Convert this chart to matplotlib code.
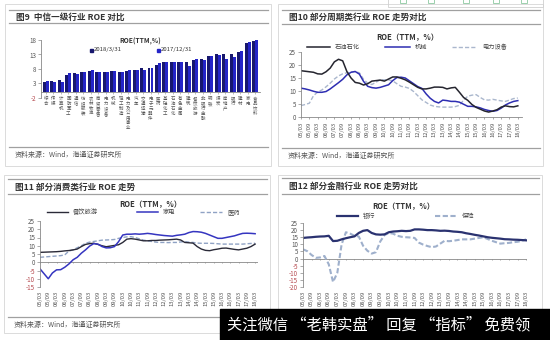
import numpy as np
import matplotlib
matplotlib.use('Agg')
import matplotlib.pyplot as plt
from matplotlib.patches import Rectangle

plt.rcParams['font.family'] = ['Noto Sans CJK SC', 'DejaVu Sans']
plt.rcParams['axes.unicode_minus'] = False

# 图9: 中信一级行业 ROE (TTM, %)
industries = ['综合', '传媒', '计算机', '国防军工', '通信', '纺织服装', '农林牧渔', '商贸零售',
              '电力设备', '机械', '轻工制造', '电力及公用事业', '汽车', '交通运输', '电子元器件',
              '医药', '基础化工', '石油石化', '有色金属', '建筑', '餐饮旅游', '非银行金融', '钢铁',
              '煤炭', '房地产', '银行', '建材', '家电', '食品饮料']
roe_2018q1 = [3.5, 4.0, 4.2, 6.0, 6.5, 6.8, 7.2, 7.0, 7.0, 7.2, 7.0, 7.3, 7.5, 8.3, 8.5,
              9.5, 10.5, 10.5, 10.5, 10.5, 11.0, 11.3, 12.5, 13.0, 13.0, 13.3, 14.0, 17.0, 17.8]
roe_2017q4 = [3.8, 3.5, 3.6, 6.6, 6.3, 7.0, 7.5, 7.0, 7.0, 7.3, 7.0, 7.5, 7.5, 7.8, 8.5,
              10.0, 10.5, 10.5, 10.5, 9.0, 11.3, 11.0, 12.5, 12.8, 11.5, 12.0, 14.2, 17.3, 17.9]

date_labels = ['05/03', '05/09', '06/03', '06/09', '07/03', '07/09', '08/03', '08/09', '09/03',
               '09/09', '10/03', '10/09', '11/03', '11/09', '12/03', '12/09', '13/03', '13/09',
               '14/03', '14/09', '15/03', '15/09', '16/03', '16/09', '17/03', '17/09', '18/03']

# 图10: 周期类, quarterly 2005Q1-2018Q1
petro = [17.8, 17.6, 17.4, 17.2, 16.6, 16.5, 17.4, 18.8, 21.2, 22.2, 21.6, 17.5, 15.0, 13.3,
         13.0, 12.3, 12.8, 13.8, 14.0, 14.2, 13.8, 14.6, 15.4, 15.4, 14.9, 14.3, 13.4, 12.4,
         11.4, 10.8, 10.8, 11.1, 11.5, 11.5, 11.4, 10.8, 11.2, 11.4, 9.5, 7.5, 6.4, 4.8, 3.7,
         3.0, 2.3, 1.9, 2.3, 2.8, 3.8, 4.3, 4.0, 3.9, 4.3]
machinery = [11.1, 10.8, 10.4, 9.9, 9.5, 9.5, 9.8, 10.8, 12.0, 13.2, 14.5, 16.2, 17.2, 17.5,
             16.5, 13.7, 11.8, 11.3, 11.1, 11.4, 11.9, 12.4, 14.0, 15.2, 15.3, 15.0, 13.9, 12.8,
             11.7, 11.0, 8.9, 7.2, 6.0, 5.4, 6.5, 6.3, 6.0, 6.0, 5.7, 4.9, 4.1, 4.1, 3.9, 3.5,
             2.9, 2.5, 2.2, 2.5, 3.4, 4.6, 5.4, 6.0, 6.3]
power_equip = [4.4, 4.8, 5.3, 8.2, 9.6, 10.4, 11.6, 13.0, 14.6, 15.8, 16.6, 17.0, 17.3, 17.5,
               17.0, 14.5, 13.0, 12.5, 13.4, 14.3, 14.3, 14.3, 13.9, 12.8, 11.8, 11.5, 11.0, 9.8,
               8.2, 6.6, 5.6, 4.6, 4.1, 3.9, 3.8, 3.8, 3.8, 4.0, 4.5, 6.5, 8.0, 8.4, 8.6, 7.5,
               6.6, 6.5, 6.8, 6.5, 6.2, 6.0, 6.5, 7.1, 7.3]

# 图11: 消费类
catering = [6.0, 6.1, 6.2, 6.3, 6.4, 6.6, 6.9, 7.1, 7.5, 8.0, 9.5, 10.8, 11.3, 11.5, 10.8,
            10.0, 9.4, 9.8, 10.2, 10.6, 12.0, 14.0, 14.3, 14.0, 13.5, 13.0, 13.0, 13.2, 13.2,
            13.4, 13.5, 13.6, 13.8, 14.0, 13.5, 12.0, 11.8, 11.6, 9.5, 8.0, 7.2, 7.0, 7.6, 8.0,
            8.5, 8.6, 8.2, 7.8, 7.5, 8.0, 8.5, 9.5, 11.0]
appliances = [-4.0, -7.0, -10.0, -6.5, -4.6, -4.5, -3.0, -1.0, 1.5, 3.0, 5.5, 7.5, 9.8, 11.3,
              11.0, 9.5, 8.7, 8.8, 9.5, 12.5, 16.5, 17.0, 17.0, 17.2, 17.0, 17.2, 17.5, 17.2,
              16.8, 16.5, 16.2, 16.0, 15.8, 16.3, 16.6, 17.0, 18.0, 18.6, 18.5, 18.2, 17.5, 16.5,
              15.5, 14.5, 14.5, 15.0, 15.5, 16.0, 16.8, 17.5, 17.6, 17.5, 17.3]
pharma = [3.0, 3.2, 3.4, 3.6, 3.8, 4.0, 4.5, 6.8, 7.5, 8.8, 10.0, 11.5, 12.2, 12.6, 13.0, 13.4,
          13.5, 13.6, 13.8, 14.5, 15.0, 15.4, 15.5, 15.0, 14.2, 13.4, 13.0, 12.6, 12.2, 12.0,
          12.0, 11.9, 12.0, 12.0, 12.3, 12.5, 12.2, 12.0, 11.6, 11.5, 11.5, 11.5, 11.4, 11.2,
          11.0, 11.0, 11.0, 11.0, 11.0, 11.0, 11.2, 11.4, 11.5]

# 图12: 金融
banks = [14.5, 14.8, 15.0, 15.3, 15.5, 15.6, 16.0, 12.3, 12.5, 13.5, 14.3, 15.0, 15.6, 18.0,
         19.5, 20.0, 18.0, 17.0, 16.8, 17.0, 18.5, 19.0, 19.2, 19.5, 19.3, 19.5, 20.5, 20.5,
         20.3, 20.0, 20.0, 19.8, 19.5, 19.6, 19.4, 19.0, 18.8, 18.5, 17.8, 17.3, 16.7, 16.2,
         15.6, 15.0, 14.6, 14.3, 14.0, 13.6, 13.5, 13.3, 13.2, 13.0, 12.8]
insurance = [6.5, 5.2, 2.5, 0.5, 0.8, 1.8, -4.0, -16.5, -10.0, 10.0, 18.5, 17.5, 16.0, 15.5,
             9.0, 5.5, 3.5, 4.5, 12.0, 16.5, 18.0, 17.5, 16.0, 15.3, 15.0, 14.8, 14.5, 11.2, 9.8,
             8.8, 8.0, 8.5, 10.5, 12.5, 12.2, 12.5, 13.0, 13.5, 13.5, 13.5, 14.0, 14.5, 15.0,
             13.8, 12.5, 11.5, 10.5, 10.8, 11.0, 11.5, 11.8, 12.5, 13.5]

source = '资料来源：Wind，海通证券研究所'
W, H = 550, 340

fig = plt.figure(figsize=(5.5, 3.4), dpi=100)
fig.patch.set_facecolor('white')

bg = fig.add_axes([0, 0, 1, 1])
bg.set_xlim(0, W)
bg.set_ylim(H, 0)
bg.axis('off')
bg.set_zorder(-1)


def box(x0, y0, x1, y1):
    return [x0 / W, 1 - y1 / H, (x1 - x0) / W, (y1 - y0) / H]


def frame(x0, y0, x1, y1, top, under, src, title, show_source=True):
    bg.add_patch(Rectangle((x0, y0), x1 - x0, y1 - y0, fill=False, ec='#d6d6d6', lw=0.6))
    for yy in (top, under, src):
        bg.plot([x0 + 4, x1 - 3], [yy, yy], color='#a0a0a0', lw=0.9)
    bg.text(x0 + 11, (top + under) / 2 + 0.5, title, fontsize=6.2, fontweight='bold',
            color='#333333', va='center')
    if show_source:
        bg.text(x0 + 10, src + 8, source, fontsize=5, color='#555555', va='center')


frame(5, 4, 271, 166, 10, 23, 147, '图9  中信一级行业 ROE 对比')
frame(278, 4, 543, 166, 10, 24, 148, '图10 部分周期类行业 ROE 走势对比')
frame(4, 175, 270, 333, 179, 194, 317, '图11 部分消费类行业 ROE 走势')
# the source line of 图12 sits under the banner
frame(278, 175, 542, 333, 178, 194, 317, '图12 部分金融行业 ROE 走势对比', show_source=False)


def style_axes(ax, ylim, yticks):
    ax.set_facecolor('none')
    ax.set_ylim(*ylim)
    ax.set_yticks(yticks)
    ax.spines[['top', 'right']].set_visible(False)
    ax.spines['left'].set_color('#888888')
    ax.spines['left'].set_linewidth(0.6)
    ax.tick_params(axis='y', length=2, width=0.5, color='#888888', labelsize=4.5,
                   labelcolor='#555555', pad=1.5)
    for lbl, v in zip(ax.get_yticklabels(), yticks):
        if v < 0:
            lbl.set_color('#b5484d')


# --- 图9 bars ---
ax1 = fig.add_axes(box(41, 40, 260, 98))
style_axes(ax1, (-2, 18), [-2, 3, 8, 13, 18])
xi = np.arange(len(industries))
ax1.bar(xi - 0.2, roe_2018q1, 0.4, color='#17176e')
ax1.bar(xi + 0.2, roe_2017q4, 0.4, color='#2424c8')
ax1.set_xlim(-0.67, 28.67)
ax1.spines['bottom'].set_position(('data', 0))
ax1.spines['bottom'].set_color('#888888')
ax1.spines['bottom'].set_linewidth(0.6)
ax1.set_xticks(xi)
ax1.set_xticklabels(['\n'.join(n) for n in industries], fontsize=3.2, linespacing=0.95,
                    color='#555555', va='top')
ax1.tick_params(axis='x', length=1.5, width=0.4, color='#888888', pad=1.5)
bg.text(140, 41, 'ROE(TTM,%)', fontsize=4.8, fontweight='bold', ha='center', va='center',
        color='#333333')
bg.add_patch(Rectangle((90, 48.5), 3, 3, color='#17176e'))
bg.text(94, 50, '2018/3/31', fontsize=4.3, va='center', color='#333333')
bg.add_patch(Rectangle((157, 48.5), 3, 3, color='#2424c8'))
bg.text(161, 50, '2017/12/31', fontsize=4.3, va='center', color='#333333')

quarters = np.arange(len(petro))


def line_panel(rect, ylim, yticks, xmax, series):
    ax = fig.add_axes(box(*rect))
    style_axes(ax, ylim, yticks)
    for vals, kw in series:
        ax.plot(quarters, vals, **kw)
    ax.set_xlim(0, xmax)
    ax.set_xticks(quarters[::2])
    ax.set_xticklabels(date_labels, rotation=90, fontsize=4.2, color='#555555')
    ax.tick_params(axis='x', length=0, pad=3)
    if ylim[0] < 0:
        ax.spines['bottom'].set_visible(False)
        ax.axhline(0, color='#888888', lw=0.6, zorder=0)
        ax.vlines(quarters[::2], -0.015 * (ylim[1] - ylim[0]), 0, color='#888888', lw=0.5)
    else:
        ax.spines['bottom'].set_color('#888888')
        ax.spines['bottom'].set_linewidth(0.6)
        ax.tick_params(axis='x', length=1.5, width=0.5, color='#888888', pad=2)
    return ax


def legend_entry(x0, x1, y, text, kw):
    bg.plot([x0, x1], [y, y], **kw)
    bg.text(x1 + 5, y, text, fontsize=4.5, va='center', color='#444444')


# --- 图10 ---
k_petro = dict(color='#25252f', lw=1.1)
k_mach = dict(color='#2e2eb2', lw=1.1)
k_power = dict(color='#aab7cd', lw=1.0, ls=(0, (3, 1.5)))
line_panel((301, 52, 522, 117), (0, 25), [0, 5, 10, 15, 20, 25], 53,
           [(power_equip, k_power), (machinery, k_mach), (petro, k_petro)])
bg.text(407, 38, 'ROE（TTM，%）', fontsize=5.5, fontweight='bold', ha='center', va='center',
        color='#333333')
legend_entry(307, 330, 47, '石油石化', k_petro)
legend_entry(385, 410, 47, '机械', k_mach)
legend_entry(452, 477, 47, '电力设备', k_power)

# --- 图11 ---
k_cat = dict(color='#2a2a38', lw=1.0)
k_app = dict(color='#3535c0', lw=1.1)
k_ph = dict(color='#8fa2c4', lw=1.0, ls=(0, (3, 1.5)))
line_panel((40, 221, 258, 287), (-15, 25), [-15, -10, -5, 0, 5, 10, 15, 20, 25], 52.7,
           [(pharma, k_ph), (catering, k_cat), (appliances, k_app)])
bg.text(150, 205, 'ROE（TTM，%）', fontsize=5.5, fontweight='bold', ha='center', va='center',
        color='#333333')
legend_entry(47, 68, 212, '餐饮旅游', k_cat)
legend_entry(137, 158, 212, '家电', k_app)
legend_entry(200, 222, 212, '医药', k_ph)

# --- 图12 ---
k_bank = dict(color='#2a3270', lw=1.6)
k_ins = dict(color='#9fb0cc', lw=1.5, ls=(0, (2.5, 1.2)))
line_panel((303, 223, 527, 287), (-20, 25), [-20, -15, -10, -5, 0, 5, 10, 15, 20, 25], 52.2,
           [(insurance, k_ins), (banks, k_bank)])
bg.text(403, 207, 'ROE（TTM，%）', fontsize=5.5, fontweight='bold', ha='center', va='center',
        color='#333333')
legend_entry(337, 358, 216, '银行', k_bank)
legend_entry(435, 457, 216, '保险', k_ins)

# overlay: toolbar strip at the top and the banner at the bottom
ov = fig.add_axes([0, 0, 1, 1])
ov.set_xlim(0, W)
ov.set_ylim(H, 0)
ov.axis('off')
ov.set_zorder(10)
ov.add_patch(Rectangle((388, -2), 155, 9, fill=False, ec='#d0d0d0', lw=0.6))
for gx in (400, 428, 463, 493, 521):
    ov.add_patch(Rectangle((gx, -1), 6, 4, fill=False, ec='#8cc9a0', lw=0.6))
ov.add_patch(Rectangle((220, 309), 330, 31, color='black'))
ov.text(227, 325, '关注微信 “老韩实盘” 回复 “指标” 免费领', color='white', fontsize=11,
        va='center', ha='left')

fig.savefig('out.png', dpi=100)
